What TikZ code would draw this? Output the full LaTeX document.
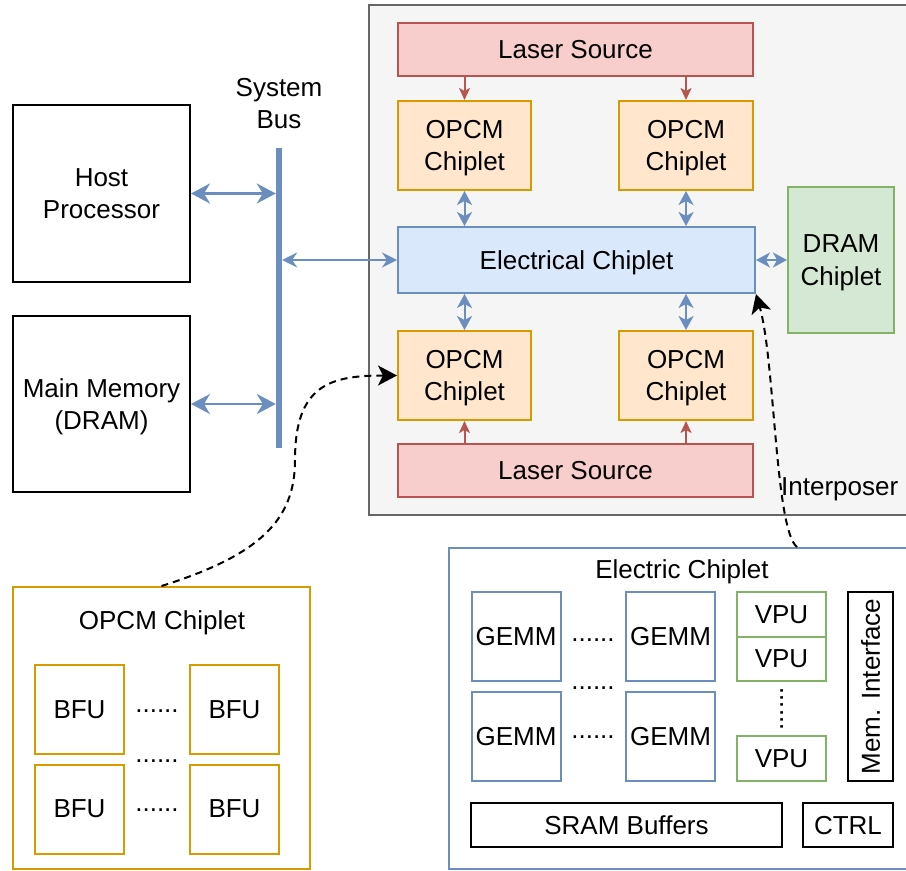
\documentclass[tikz,border=0pt]{standalone}
\usepackage{fontspec}
\setmainfont{Liberation Sans}
\usetikzlibrary{arrows.meta,calc}

\definecolor{orangeS}{HTML}{D79B00}
\definecolor{orangeF}{HTML}{FFE6CC}
\definecolor{redS}{HTML}{B85450}
\definecolor{redF}{HTML}{F8CECC}
\definecolor{blueS}{HTML}{6C8EBF}
\definecolor{blueF}{HTML}{DAE8FC}
\definecolor{greenS}{HTML}{82B366}
\definecolor{greenF}{HTML}{D5E8D4}
\definecolor{grayS}{HTML}{666666}
\definecolor{grayF}{HTML}{F5F5F5}

\tikzset{
  base/.style={line width=2pt, inner sep=0pt, align=center, text=black, text depth=0pt},
  label/.style={inner sep=0pt, align=center, text depth=0pt},
  opcm/.style={base, draw=orangeS, fill=orangeF},
  laser/.style={base, draw=redS, fill=redF},
  elecbox/.style={base, draw=blueS, fill=blueF},
  drambox/.style={base, draw=greenS, fill=greenF},
  plainbox/.style={base, draw=black, fill=white},
  bfu/.style={base, draw=orangeS, fill=white, minimum width=89pt, minimum height=89pt},
  gemm/.style={base, draw=blueS, fill=white, minimum width=89pt, minimum height=89pt},
  vpu/.style={base, draw=greenS, fill=white, minimum width=89pt},
  dotrow/.style={inner sep=0pt, anchor=base},
  busarrow/.style={draw=blueS, line width=2.5pt,
    {Stealth[length=19pt,width=20pt,inset=6pt]}-{Stealth[length=19pt,width=20pt,inset=6pt]}},
  linkarrow/.style={draw=blueS, line width=2pt,
    {Stealth[length=15pt,width=15pt,inset=5pt]}-{Stealth[length=15pt,width=15pt,inset=5pt]}},
  chiparrow/.style={draw=blueS, line width=2pt,
    {Stealth[length=14pt,width=15pt,inset=4pt]}-{Stealth[length=14pt,width=15pt,inset=4pt]}},
  laserarrow/.style={draw=redS, line width=2pt, -{Stealth[length=12pt,width=11pt,inset=3pt]}},
  zoomarrow/.style={draw=black, line width=2pt, dash pattern=on 7pt off 5pt,
    -{Stealth[length=19pt,width=20pt,inset=5pt]}},
}

\begin{document}
\begin{tikzpicture}[x=1pt, y=-1pt, font=\fontsize{26}{32.5}\selectfont]
\useasboundingbox (0,0) rectangle (906,871);
\clip (0,0) rectangle (906,871);

% host side
\node[plainbox, minimum width=177pt, minimum height=177pt] (host) at (101.5,193.5) {Host\\Processor};
\node[plainbox, minimum width=177pt, minimum height=176pt] (mem) at (101.5,404) {Main Memory\\(DRAM)};
\node[fill=blueS, inner sep=0pt, minimum width=6pt, minimum height=300pt] (bus) at (279,298) {};
\node[label] (buslabel) at (279,103.5) {System\\Bus};

% interposer package
\node[base, draw=grayS, fill=grayF, minimum width=543pt, minimum height=510pt] (interposer) at (640.5,260) {};
\node[label, anchor=west] (interlabel) at (781,487) {Interposer};

\node[laser, minimum width=355pt, minimum height=53pt] (lasT) at (575.5,49.5) {Laser Source};
\node[opcm, minimum width=133pt, minimum height=89pt] (opTL) at (464.5,145.5) {OPCM\\Chiplet};
\node[opcm, minimum width=134pt, minimum height=89pt] (opTR) at (686,145.5) {OPCM\\Chiplet};
\node[elecbox, minimum width=357pt, minimum height=66pt] (elec) at (576.5,260) {Electrical Chiplet};
\node[opcm, minimum width=133pt, minimum height=89pt] (opBL) at (464.5,375.5) {OPCM\\Chiplet};
\node[opcm, minimum width=134pt, minimum height=89pt] (opBR) at (686,375.5) {OPCM\\Chiplet};
\node[laser, minimum width=355pt, minimum height=53pt] (lasB) at (575.5,470.5) {Laser Source};
\node[drambox, minimum width=106pt, minimum height=146pt] (dram) at (841,260) {DRAM\\Chiplet};

% connections
\draw[busarrow] (host.east) -- (bus.west |- host.east);
\draw[busarrow] (mem.east) -- (bus.west |- mem.east);
\draw[linkarrow] (bus.east |- elec.west) -- (elec.west);

\draw[laserarrow] (lasT.south -| opTL.north) -- (opTL.north);
\draw[laserarrow] (lasT.south -| opTR.north) -- (opTR.north);
\draw[laserarrow] (lasB.north -| opBL.south) -- (opBL.south);
\draw[laserarrow] (lasB.north -| opBR.south) -- (opBR.south);

\draw[chiparrow] (opTL.south) -- (elec.north -| opTL.south);
\draw[chiparrow] (opTR.south) -- (elec.north -| opTR.south);
\draw[chiparrow] (opBL.north) -- (elec.south -| opBL.north);
\draw[chiparrow] (opBR.north) -- (elec.south -| opBR.north);
\draw[chiparrow] (elec.east) -- (dram.west);

% OPCM chiplet detail
\node[base, draw=orangeS, fill=white, minimum width=297pt, minimum height=282pt] (obox) at (161.5,728) {};
\node[label] (otitle) at (162,620) {OPCM Chiplet};
\node[bfu] (bfu11) at (79.5,709.5) {BFU};
\node[bfu] (bfu12) at (234.5,709.5) {BFU};
\node[bfu] (bfu21) at (79.5,809) {BFU};
\node[bfu] (bfu22) at (234.5,809) {BFU};
\node[dotrow] (od1) at (157,712) {......};
\node[dotrow] (od2) at (157,762) {......};
\node[dotrow] (od3) at (157,811) {......};

% electric chiplet detail
\node[base, draw=blueS, fill=white, minimum width=463pt, minimum height=321pt] (echip) at (680.5,708.5) {};
\node[label] (etitle) at (682,569) {Electric Chiplet};
\node[gemm] (g11) at (516,636.5) {GEMM};
\node[gemm] (g12) at (670.5,636.5) {GEMM};
\node[gemm] (g21) at (516,736.5) {GEMM};
\node[gemm] (g22) at (670.5,736.5) {GEMM};
\node[dotrow] (ed1) at (593,641) {......};
\node[dotrow] (ed2) at (593,689) {......};
\node[dotrow] (ed3) at (593,738) {......};
\node[vpu, minimum height=45pt] (vpu1) at (781.5,614.5) {VPU};
\node[vpu, minimum height=44pt] (vpu2) at (781.5,659) {VPU};
\node[vpu, minimum height=45pt] (vpu3) at (781.5,758.5) {VPU};
\node[dotrow, rotate=90] (vd) at (783,709) {......};
\node[plainbox, minimum width=45pt, minimum height=189pt] (memif) at (870.5,686.5) {};
\node[label, rotate=90] (memiftext) at (memif.center) {Mem. Interface};
\node[plainbox, minimum width=311pt, minimum height=44pt] (sram) at (626.5,825) {SRAM Buffers};
\node[plainbox, minimum width=90pt, minimum height=44pt] (ctrl) at (848,825) {CTRL};

% zoom-in links
\coordinate (estart) at ($(echip.north west)+(349,0)$);
\draw[zoomarrow] (obox.north) .. controls (260,555) and (295,520) .. (295,460)
  .. controls (295,385) and (330,375.5) .. (opBL.west);
\draw[zoomarrow] (estart) .. controls (775,530) and (775,360) .. (elec.south east);
\end{tikzpicture}
\end{document}
